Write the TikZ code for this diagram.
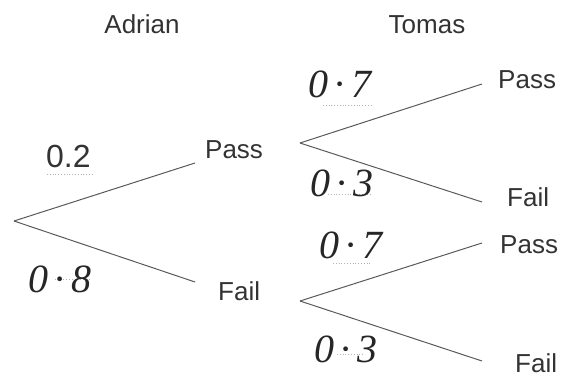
\documentclass[tikz,border=0pt]{standalone}
\usepackage{fontspec}
\setmainfont{Liberation Sans}
\newfontfamily\handfont{Liberation Serif}
\begin{document}
\begin{tikzpicture}[x=1pt,y=-1pt,
  lbl/.style={anchor=base west, inner sep=0pt, font=\fontsize{26}{26}\selectfont, text=black!80},
  head/.style={anchor=base, inner sep=0pt, font=\fontsize{26}{26}\selectfont, text=black!80},
  hw/.style={anchor=base, inner sep=0pt, font=\handfont\itshape\fontsize{40}{40}\selectfont, text=black!85},
  br/.style={draw=black!65, line width=1pt},
  dotln/.style={draw=black!30, dotted, line width=0.8pt}]
\useasboundingbox (0,0) rectangle (568,378);
% branch points
\coordinate (r) at (14,221);
\coordinate (a1) at (195,163);
\coordinate (a2) at (195,282);
\coordinate (t1) at (300,143);
\coordinate (t1p) at (482,84);
\coordinate (t1f) at (482,202);
\coordinate (t2) at (300,301);
\coordinate (t2p) at (482,243);
\coordinate (t2f) at (482,361);
% branches
\draw[br] (r) -- (a1);
\draw[br] (r) -- (a2);
\draw[br] (t1) -- (t1p);
\draw[br] (t1) -- (t1f);
\draw[br] (t2) -- (t2p);
\draw[br] (t2) -- (t2f);
% headings
\node[head] (hA) at (142,33) {Adrian};
\node[head] (hT) at (427,33) {Tomas};
% outcome labels
\node[lbl] (aP) at (205,158) {Pass};
\node[lbl] (aF) at (218,300) {Fail};
\node[lbl] (bP1) at (498,88) {Pass};
\node[lbl] (bF1) at (507,206) {Fail};
\node[lbl] (bP2) at (500,253) {Pass};
\node[lbl] (bF2) at (515,372) {Fail};
% answer dotted lines
\draw[dotln] (47,174) -- (92,174);
\draw[dotln] (55,279) -- (90,279);
\draw[dotln] (323,105) -- (373,105);
\draw[dotln] (328,194) -- (372,194);
\draw[dotln] (333,263) -- (372,263);
\draw[dotln] (337,354) -- (365,354);
% probabilities
\node[anchor=base west, inner sep=0pt, font=\fontsize{32}{32}\selectfont, text=black!80] (p02) at (46,167) {0.2};
\node[hw] (p08) at (60,292) {0\,·\,8};
\node[hw] (p07a) at (340,97) {0\,·\,7};
\node[hw] (p03a) at (342,196) {0\,·\,3};
\node[hw] (p07b) at (351,258) {0\,·\,7};
\node[hw] (p03b) at (346,362) {0\,·\,3};
\end{tikzpicture}
\end{document}
